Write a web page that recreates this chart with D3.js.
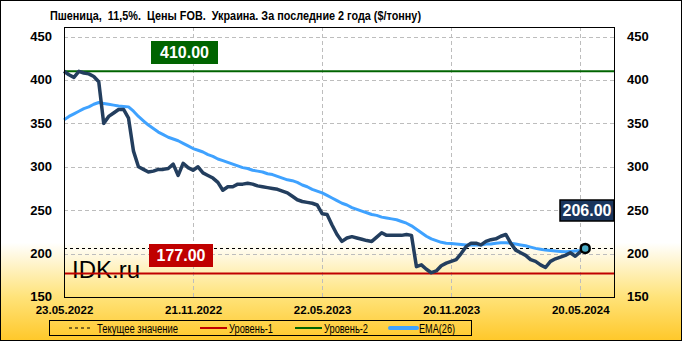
<!DOCTYPE html>
<html><head><meta charset="utf-8">
<script src="https://cdn.jsdelivr.net/npm/d3@7"></script>
<style>
html,body{margin:0;padding:0;background:#fff;}
svg{display:block;}
text{font-family:"Liberation Sans",Arial,sans-serif;}
</style></head>
<body>
<script>
// ---- data ----
const titleText = "Пшеница,  11,5%.  Цены FOB.  Украина. За последние 2 года ($/тонну)";
const startDate = "2022-05-23";
const price = [410,406,403,410,408,407,404,398,350,358,362,366,366,356,318,300,297,294,295,297,297,298,303,290,304,299,296,300,
  293,290,287,282,273,277,277,280,280,281,280,278,277,276,275,274,272,270,266,262,260,259,258,256,246,245,
  233,222,214,218,219.5,218,216.5,215,214,219,224,221,221,221,221,222,221,185,187,182,178,180,186,189,191,193,
  200,208,212,212,210,214,216,217,220,222,212,204,201,198,193,191,187,184,191,194,196,198,201,197,202,206];
const ema = [354,358,361,364,367,369,372,374,373,372,371,370,369.5,369,364,358,353,348,344,340,337,334,332,330,327,324,321,319,
  317,314,312,309,307,305,303,301,299,298,296,295,294,292,291,289,287,285,284,282,279,277,274,272,270,267,
  264,261,258,256,253,251,249,247,245,244,242,241,240,239,237,235,232,228,224,220,217,215,213,212,211.5,211,
  210.5,210,210,210,210,211,211,212,212.5,212.5,212,211,210,209,207.5,206,205,204,203.5,203,202.5,202,202.5,203,203.5,205];
const level1 = 177, level2 = 410, current = 206;
const yTicks = [150,200,250,300,350,400,450];
const xTickLabels = ["23.05.2022","21.11.2022","22.05.2023","20.11.2023","20.05.2024"];
const legendLabels = ["Текущее значение","Уровень-1","Уровень-2","EMA(26)"];

// ---- layout ----
const W = 682, H = 341;
const L = 64, R = 615, T = 27, B = 297;
const parse = d3.timeParse("%d.%m.%Y");
const iso = d3.timeParse("%Y-%m-%d");
const d0 = iso(startDate);
const dates = price.map((_, i) => d3.timeDay.offset(d0, 7 * i));
const xTicks = xTickLabels.map(parse);

const x = d3.scaleTime().domain([d0, d3.timeDay.offset(d0, 777)]).range([L, R]);
const y = d3.scaleLinear().domain([150, 461]).range([B, T]);

const svg = d3.select("body").append("svg").attr("width", W).attr("height", H);
const defs = svg.append("defs");
const grad = defs.append("linearGradient").attr("id", "bg").attr("x1", 0).attr("x2", 0).attr("y1", 0).attr("y2", 1);
grad.append("stop").attr("offset", "0").attr("stop-color", "#ffffff");
grad.append("stop").attr("offset", String(243 / H)).attr("stop-color", "#ffffff");
grad.append("stop").attr("offset", String(297 / H)).attr("stop-color", "#ffe37a");
grad.append("stop").attr("offset", "1").attr("stop-color", "#ffc82a");

svg.append("rect").attr("x", 0.5).attr("y", 0.5).attr("width", W - 1).attr("height", H - 1)
  .attr("fill", "url(#bg)").attr("stroke", "#000").attr("stroke-width", 1);

// title
svg.append("text").attr("x", 50).attr("y", 20).attr("font-size", 12.5).attr("font-weight", "bold")
  .attr("fill", "#000").style("white-space", "pre")
  .attr("textLength", 371).attr("lengthAdjust", "spacingAndGlyphs").text(titleText);

// grid
const g = svg.append("g");
g.selectAll("line.hg").data(yTicks.filter(v => v > 150)).join("line")
  .attr("x1", L).attr("x2", R).attr("y1", d => Math.round(y(d)) + 0.5).attr("y2", d => Math.round(y(d)) + 0.5)
  .attr("stroke", "#bdbdbd").attr("stroke-dasharray", "4,3");
g.selectAll("line.vg").data(xTicks.slice(1)).join("line")
  .attr("y1", T).attr("y2", B).attr("x1", d => Math.round(x(d)) + 0.5).attr("x2", d => Math.round(x(d)) + 0.5)
  .attr("stroke", "#bdbdbd").attr("stroke-dasharray", "4,3");

// axes (labels only)
const yl = d3.axisLeft(y).tickValues(yTicks).tickSize(0).tickPadding(12);
const yr = d3.axisRight(y).tickValues(yTicks).tickSize(0).tickPadding(12);
const xa = d3.axisBottom(x).tickValues(xTicks).tickSize(0).tickPadding(8.5).tickFormat(d3.timeFormat("%d.%m.%Y"));
function styleAxis(sel, fs) {
  sel.select(".domain").remove();
  sel.selectAll("text").attr("font-size", fs).attr("font-weight", "bold").attr("fill", "#000")
    .attr("font-family", "Liberation Sans, Arial, sans-serif");
}
svg.append("g").attr("transform", `translate(${L},0)`).call(yl).call(s => styleAxis(s, 13))
  .selectAll("text").attr("dy", "0.3em");
svg.append("g").attr("transform", `translate(${R},0)`).call(yr).call(s => styleAxis(s, 13))
  .selectAll("text").attr("dy", "0.3em");
svg.append("g").attr("transform", `translate(0,${B})`).call(xa).call(s => styleAxis(s, 11.5));

// IDK.ru watermark
svg.append("text").attr("x", 72).attr("y", 278).attr("font-size", 24).attr("fill", "#000").text("IDK.ru");

// level lines
svg.append("line").attr("x1", L).attr("x2", R).attr("y1", y(level2)).attr("y2", y(level2))
  .attr("stroke", "#006400").attr("stroke-width", 2);
svg.append("line").attr("x1", L).attr("x2", R).attr("y1", y(level1)).attr("y2", y(level1))
  .attr("stroke", "#c00000").attr("stroke-width", 2);
svg.append("line").attr("x1", L).attr("x2", R).attr("y1", Math.round(y(current)) + 0.5).attr("y2", Math.round(y(current)) + 0.5)
  .attr("stroke", "#000").attr("stroke-width", 1).attr("stroke-dasharray", "3,3");

// series
const line = d3.line().x((d, i) => x(dates[i])).y(d => y(d));
svg.append("path").datum(ema).attr("d", line).attr("fill", "none")
  .attr("stroke", "#3fa2ff").attr("stroke-width", 3).attr("stroke-linejoin", "round");
svg.append("path").datum(price).attr("d", line).attr("fill", "none")
  .attr("stroke", "#233e5e").attr("stroke-width", 3.5).attr("stroke-linejoin", "round");

// end marker
const li = price.length - 1;
svg.append("circle").attr("cx", x(dates[li])).attr("cy", y(price[li])).attr("r", 4.5)
  .attr("fill", "#4bacc6").attr("stroke", "#000").attr("stroke-width", 2.5);

// plot border
svg.append("rect").attr("x", L + 0.5).attr("y", T + 0.5).attr("width", R - L - 1).attr("height", B - T)
  .attr("fill", "none").attr("stroke", "#000");

// value boxes
function valueBox(x0, y0, w, h, fill, stroke, txt) {
  svg.append("rect").attr("x", x0).attr("y", y0).attr("width", w).attr("height", h)
    .attr("fill", fill).attr("stroke", stroke).attr("stroke-width", stroke === "none" ? 0 : 1.5);
  svg.append("text").attr("x", x0 + w / 2).attr("y", y0 + h / 2 + 5.5).attr("text-anchor", "middle")
    .attr("font-size", 16).attr("font-weight", "bold").attr("fill", "#fff").text(txt);
}
valueBox(151, 41, 67, 23, "#006400", "none", level2.toFixed(2));
valueBox(149, 244, 64, 23, "#c00000", "none", level1.toFixed(2));
valueBox(560, 200, 54, 21, "#1b365d", "#000", current.toFixed(2));

// legend
const lg = svg.append("g");
lg.append("rect").attr("x", 49.5).attr("y", 320.5).attr("width", 422).attr("height", 15)
  .attr("fill", "none").attr("stroke", "#000");
const items = [
  {x1: 69, x2: 93, tx: 97, tl: 81, color: "#000", w: 1, dash: "3,3"},
  {x1: 200, x2: 227, tx: 229, tl: 44, color: "#c00000", w: 2, dash: null},
  {x1: 295, x2: 322, tx: 324, tl: 44, color: "#006400", w: 2, dash: null},
  {x1: 390, x2: 417, tx: 419, tl: 36, color: "#3fa2ff", w: 4, dash: null}
];
items.forEach((it, i) => {
  lg.append("line").attr("x1", it.x1).attr("x2", it.x2).attr("y1", 328).attr("y2", 328)
    .attr("stroke", it.color).attr("stroke-width", it.w).attr("stroke-dasharray", it.dash)
    .attr("stroke-linecap", i === 3 ? "round" : "butt");
  lg.append("text").attr("x", it.tx).attr("y", 332.5).attr("font-size", 12).attr("fill", "#000")
    .attr("textLength", it.tl).attr("lengthAdjust", "spacingAndGlyphs").text(legendLabels[i]);
});
</script>
</body></html>
